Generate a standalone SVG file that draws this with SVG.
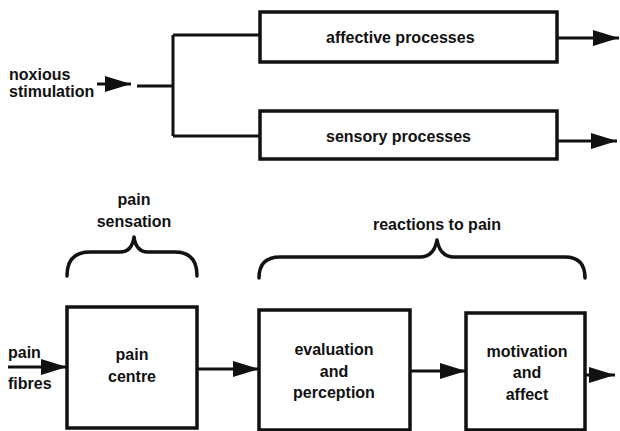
<svg xmlns="http://www.w3.org/2000/svg" width="620" height="431" viewBox="0 0 620 431">
<style>
  .box{fill:none;stroke:#111;stroke-width:3.5}
  .ln{fill:none;stroke:#111;stroke-width:3}
  .br{fill:none;stroke:#111;stroke-width:3.5;stroke-linecap:round;stroke-linejoin:round}
  text{font-family:"Liberation Sans",Arial,sans-serif;font-weight:bold;font-size:16px;fill:#111}
  .c{text-anchor:middle}
</style>
<defs>
  <marker id="ah" markerUnits="userSpaceOnUse" markerWidth="26" markerHeight="16" refX="26" refY="8" orient="auto">
    <path d="M0,0 L26,8 L0,16 Z" fill="#111"/>
  </marker>
</defs>
<rect width="620" height="431" fill="#fff"/>

<g id="connectors">
  <line class="ln" x1="97" y1="84" x2="131" y2="84" marker-end="url(#ah)"/>
  <path class="ln" d="M137,86 H173 M173,35 V136 M173,35 H260 M173,136 H260"/>
  <line class="ln" x1="557" y1="38" x2="619" y2="38" marker-end="url(#ah)"/>
  <line class="ln" x1="557" y1="141" x2="617" y2="141" marker-end="url(#ah)"/>
  <line class="ln" x1="8" y1="367" x2="67" y2="367" marker-end="url(#ah)"/>
  <line class="ln" x1="197" y1="369" x2="259" y2="369" marker-end="url(#ah)"/>
  <line class="ln" x1="410" y1="371" x2="466" y2="371" marker-end="url(#ah)"/>
  <line class="ln" x1="585" y1="375" x2="615" y2="375" marker-end="url(#ah)"/>
</g>

<g id="noxious">
  <text x="9" y="80">noxious</text>
  <text x="9" y="97">stimulation</text>
</g>
<g id="affective">
  <rect class="box" x="260" y="12" width="297" height="50"/>
  <text x="326" y="43">affective processes</text>
</g>
<g id="sensory">
  <rect class="box" x="260" y="111" width="297" height="48"/>
  <text x="326" y="142">sensory processes</text>
</g>

<g id="pain-sensation">
  <path class="br" d="M67,276 Q67,252 90,252 H120 Q132,252 134,237 Q136,252 148,252 H175 Q197,252 197,276"/>
  <text class="c" x="134" y="205">pain</text>
  <text class="c" x="134" y="227">sensation</text>
</g>
<g id="reactions">
  <path class="br" d="M259,278 Q259,257 280,257 H420 Q434,257 437,240 Q440,257 454,257 H565 Q585,257 585,278"/>
  <text class="c" x="437" y="230">reactions to pain</text>
</g>

<g id="pain-fibres">
  <text x="8" y="358">pain</text>
  <text x="8" y="389">fibres</text>
</g>
<g id="pain-centre">
  <rect class="box" x="67" y="307" width="130" height="121"/>
  <text class="c" x="132" y="360">pain</text>
  <text class="c" x="132" y="382">centre</text>
</g>
<g id="evaluation">
  <rect class="box" x="259" y="310" width="151" height="120"/>
  <text class="c" x="334" y="355">evaluation</text>
  <text class="c" x="334" y="377">and</text>
  <text class="c" x="334" y="398">perception</text>
</g>
<g id="motivation">
  <rect class="box" x="466" y="313" width="119" height="117"/>
  <text class="c" x="527" y="357">motivation</text>
  <text class="c" x="527" y="378">and</text>
  <text class="c" x="527" y="400">affect</text>
</g>
</svg>
